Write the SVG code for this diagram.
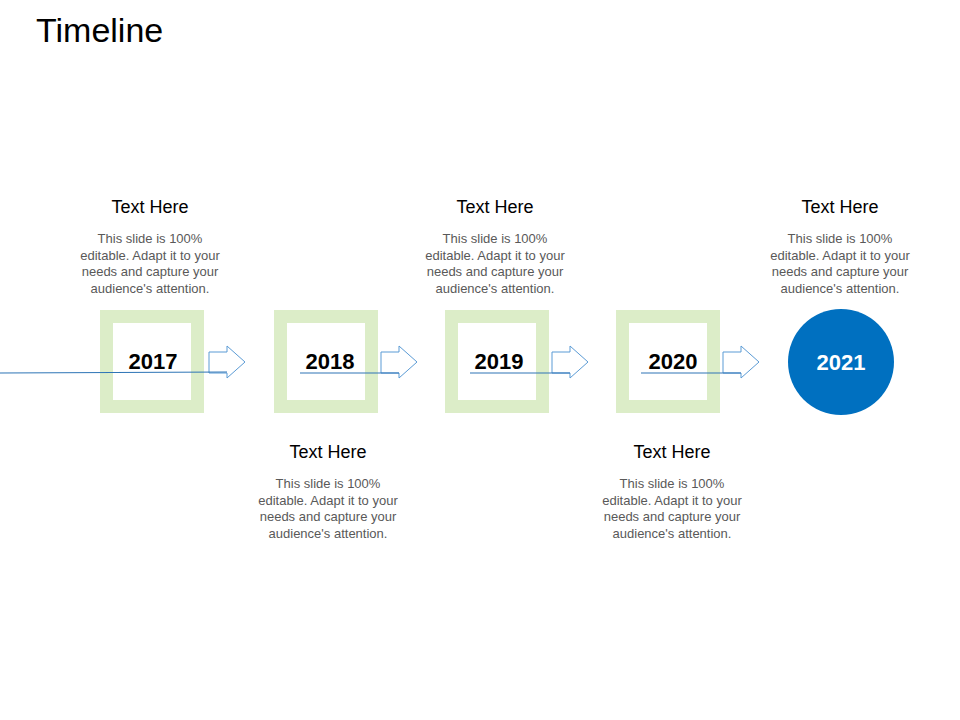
<svg xmlns="http://www.w3.org/2000/svg" width="960" height="720" viewBox="0 0 960 720">
<style>
.box{fill:#fff;stroke:#dcedc8;stroke-width:13}
.yr{font:bold 22px "Liberation Sans",Arial,sans-serif;fill:#000;text-anchor:middle}
.h{font:18px "Liberation Sans",Arial,sans-serif;fill:#000;text-anchor:middle}
.b{font:13px "Liberation Sans",Arial,sans-serif;fill:#595959;text-anchor:middle}
.ar{fill:#fff;stroke:#5b9bd5;stroke-width:1}
.ln{stroke:#2e75b6;stroke-width:1.2}
</style>
<rect width="960" height="720" fill="#fff"/>
<text x="36" y="42" font-family="Liberation Sans, Arial, sans-serif" font-size="34" fill="#000">Timeline</text>
<g id="n2017"><rect class="box" x="106.500" y="316.500" width="91" height="90"/><text class="yr" x="153" y="369">2017</text></g>
<g id="n2018"><rect class="box" x="280.500" y="316.500" width="91" height="90"/><text class="yr" x="330" y="369">2018</text></g>
<g id="n2019"><rect class="box" x="451.500" y="316.500" width="91" height="90"/><text class="yr" x="499" y="369">2019</text></g>
<g id="n2020"><rect class="box" x="622.500" y="316.500" width="91" height="90"/><text class="yr" x="673" y="369">2020</text></g>
<g id="n2021"><circle cx="841" cy="362" r="53" fill="#0070c0"/><text class="yr" x="841" y="370" fill="#fff" style="fill:#fff">2021</text></g>
<g id="connectors">
<path class="ar" d="M209 352H227V346L245 362L227 378V373H209Z"/>
<path class="ar" d="M381 352H399V346L417 362L399 378V373H381Z"/>
<path class="ar" d="M552 352H570V346L588 362L570 378V373H552Z"/>
<path class="ar" d="M723 352H741V346L759 362L741 378V373H723Z"/>
<line class="ln" x1="0" y1="373" x2="227" y2="372"/>
<line class="ln" x1="300" y1="373" x2="399" y2="373"/>
<line class="ln" x1="470" y1="373" x2="570" y2="373"/>
<line class="ln" x1="641" y1="373" x2="741" y2="373"/>
</g>
<g id="t1"><text class="h" x="150" y="213">Text Here</text><text class="b" x="150" y="243">This slide is 100%</text><text class="b" x="150" y="260">editable. Adapt it to your</text><text class="b" x="150" y="276">needs and capture your</text><text class="b" x="150" y="293">audience's attention.</text></g>
<g id="t2"><text class="h" x="495" y="213">Text Here</text><text class="b" x="495" y="243">This slide is 100%</text><text class="b" x="495" y="260">editable. Adapt it to your</text><text class="b" x="495" y="276">needs and capture your</text><text class="b" x="495" y="293">audience's attention.</text></g>
<g id="t3"><text class="h" x="840" y="213">Text Here</text><text class="b" x="840" y="243">This slide is 100%</text><text class="b" x="840" y="260">editable. Adapt it to your</text><text class="b" x="840" y="276">needs and capture your</text><text class="b" x="840" y="293">audience's attention.</text></g>
<g id="t4"><text class="h" x="328" y="458">Text Here</text><text class="b" x="328" y="488">This slide is 100%</text><text class="b" x="328" y="505">editable. Adapt it to your</text><text class="b" x="328" y="521">needs and capture your</text><text class="b" x="328" y="538">audience's attention.</text></g>
<g id="t5"><text class="h" x="672" y="458">Text Here</text><text class="b" x="672" y="488">This slide is 100%</text><text class="b" x="672" y="505">editable. Adapt it to your</text><text class="b" x="672" y="521">needs and capture your</text><text class="b" x="672" y="538">audience's attention.</text></g>
</svg>
